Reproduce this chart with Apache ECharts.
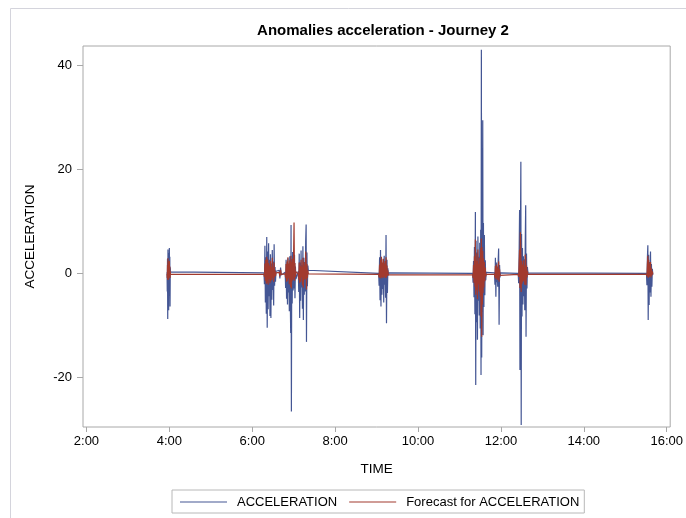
<!DOCTYPE html>
<html>
<head>
<meta charset="utf-8">
<script src="https://cdn.jsdelivr.net/npm/echarts@6/dist/echarts.min.js"></script>
<style>
html,body{margin:0;padding:0;background:#fff;}
#chart{width:686px;height:518px;}
</style>
</head>
<body>
<div id="chart"></div>
<script>
// Rows: [time "H:MM:SS", ACCELERATION, Forecast for ACCELERATION]
const burst0400 = [
  ["3:56:40", 0.2, -0.1], ["3:57:00", -3.5, -0.9], ["3:57:20", 2.8, 1.6], ["3:57:40", -8.8, -1.3],
  ["3:58:00", 4.6, 2.9], ["3:58:20", -5.2, -0.8], ["3:58:40", 3.9, 2.2], ["3:59:00", -7.1, -1.2],
  ["3:59:20", 1.5, 1.0], ["3:59:40", -4.3, -0.6], ["4:00:00", 4.9, 2.4], ["4:00:20", -2.6, -0.4],
  ["4:00:40", 3.2, 1.3], ["4:01:00", -6.4, -0.9], ["4:01:20", 1.1, 0.4], ["4:01:40", 0.3, -0.2]
];
const burst0625 = [
  ["6:17:00", 0.1, -0.2], ["6:17:40", -2.1, -0.7], ["6:18:20", 5.3, 1.9], ["6:19:00", -5.6, -1.4],
  ["6:19:40", 3.1, 2.6], ["6:20:20", -7.8, -2.0], ["6:21:00", 7.0, 3.2], ["6:21:40", -10.5, -1.8],
  ["6:22:20", 4.2, 2.7], ["6:23:00", -6.9, -2.2], ["6:23:40", 5.8, 2.0], ["6:24:20", -4.4, -1.1],
  ["6:25:00", 2.6, 1.5], ["6:25:40", -8.2, -1.9], ["6:26:20", 3.7, 2.4], ["6:27:00", -8.6, -1.5],
  ["6:27:40", 1.9, 1.2], ["6:28:20", -5.1, -1.3], ["6:29:00", 4.5, 3.0], ["6:29:40", -3.2, -0.9],
  ["6:30:20", 2.3, 1.1], ["6:31:00", -6.2, -1.6], ["6:31:40", 5.6, 2.1], ["6:32:20", -2.4, -0.8],
  ["6:33:00", 1.2, 0.6], ["6:33:40", -1.6, -0.5], ["6:34:20", 0.4, 0.1],
  ["6:39:00", 0.6, 0.2], ["6:40:00", -1.0, -0.6], ["6:41:00", 1.1, 0.7], ["6:42:00", -0.3, -0.2]
];
const burst0655 = [
  ["6:47:40", 0.2, -0.1], ["6:48:20", -2.8, -0.9], ["6:49:00", 2.6, 1.8], ["6:49:40", -4.9, -1.6],
  ["6:50:20", 1.8, 2.3], ["6:51:00", -6.0, -1.4], ["6:51:40", 2.9, 3.1], ["6:52:20", -3.7, -1.0],
  ["6:53:00", 1.4, 1.9], ["6:53:40", -7.3, -2.1], ["6:54:20", 3.3, 2.5], ["6:55:00", -4.6, -1.7],
  ["6:55:40", -11.5, -2.6], ["6:56:10", 9.3, 3.4], ["6:56:40", -26.6, -2.9], ["6:57:10", 2.7, 2.2],
  ["6:57:50", -5.8, -1.5], ["6:58:30", 4.1, 2.8], ["6:59:10", -3.3, -1.2], ["6:59:50", 1.7, 3.6],
  ["7:00:30", -2.9, 9.8], ["7:01:10", 3.6, -1.4], ["7:01:50", -4.8, 2.0], ["7:02:30", 1.3, -0.7],
  ["7:03:10", -1.1, 0.3]
];
const burst0715 = [
  ["7:06:40", 0.4, -0.1], ["7:07:20", -3.6, -1.2], ["7:08:00", 3.8, 2.1], ["7:08:40", -8.6, -1.9],
  ["7:09:20", 2.1, 1.4], ["7:10:00", -5.3, -1.6], ["7:10:40", 4.4, 2.6], ["7:11:20", -2.7, -0.8],
  ["7:12:00", 1.6, 1.2], ["7:12:40", -6.8, -2.3], ["7:13:20", 5.2, 3.0], ["7:14:00", -9.0, -2.7],
  ["7:14:40", 3.0, 2.2], ["7:15:20", -4.1, -1.3], ["7:16:00", 2.2, 1.5], ["7:16:40", -3.5, -1.1],
  ["7:17:20", 6.1, 4.2], ["7:18:00", 9.4, 2.4], ["7:18:30", -13.2, -3.1], ["7:19:10", 4.0, 1.8],
  ["7:19:50", -2.5, -0.9], ["7:20:30", 1.5, 0.6], ["7:21:10", 0.6, -0.1]
];
const burst0910 = [
  ["9:03:00", 0.0, -0.2], ["9:03:40", -2.4, -0.8], ["9:04:20", 3.1, 1.7], ["9:05:00", -5.2, -0.9],
  ["9:05:40", 4.5, 2.6], ["9:06:20", -6.4, -1.0], ["9:07:00", 2.0, 3.2], ["9:07:40", -4.1, -0.7],
  ["9:08:20", 1.5, 2.1], ["9:09:00", -3.0, -0.9], ["9:09:40", 2.7, 2.8], ["9:10:20", -5.6, -0.8],
  ["9:11:00", 3.4, 1.9], ["9:11:40", -2.2, -0.6], ["9:12:20", 1.9, 2.4], ["9:13:00", -4.7, -0.9],
  ["9:13:40", 7.4, 3.1], ["9:14:20", -9.6, -0.8], ["9:15:00", 2.6, 1.5], ["9:15:40", -3.8, -0.5],
  ["9:16:20", 1.0, 0.6], ["9:17:00", -0.4, -0.3], ["9:17:40", 0.1, -0.2]
];
const burst1130 = [
  ["11:19:00", 0.0, -0.3], ["11:19:40", -1.8, -0.9], ["11:20:20", 2.4, 1.6], ["11:21:00", -4.6, -1.8],
  ["11:21:40", 5.1, 3.3], ["11:22:20", -7.9, -2.6], ["11:23:00", 11.8, 6.5], ["11:23:30", -21.5, -4.1],
  ["11:24:00", 6.3, 3.8], ["11:24:40", -9.4, -3.2], ["11:25:20", 4.0, 2.4], ["11:26:00", -12.8, -5.0],
  ["11:26:40", 7.1, 4.6], ["11:27:20", -5.3, -2.1], ["11:28:00", 3.2, 1.8], ["11:28:40", -8.1, -3.5],
  ["11:29:20", 5.9, 3.0], ["11:30:00", -10.6, -4.4], ["11:30:40", 8.4, 4.9], ["11:31:10", -19.6, -8.3],
  ["11:31:40", 43.1, 6.7], ["11:32:10", -16.2, -12.2], ["11:32:40", 12.5, 5.1], ["11:33:10", -7.4, -6.0],
  ["11:33:40", 29.5, 4.3], ["11:34:10", -11.9, -3.8], ["11:34:40", 9.7, 2.9], ["11:35:20", -6.5, -2.7],
  ["11:36:00", 7.4, 2.2], ["11:36:40", -4.2, -1.5], ["11:37:20", 2.5, 1.1], ["11:38:00", -1.3, -0.6],
  ["11:38:40", 0.2, -0.2]
];
const burst1155 = [
  ["11:50:40", 0.1, -0.2], ["11:51:20", -2.2, -0.8], ["11:52:00", 3.0, 1.4], ["11:52:40", -4.5, -1.2],
  ["11:53:20", 2.1, 1.7], ["11:54:00", -1.7, -0.9], ["11:54:40", 1.3, 1.1], ["11:55:20", -2.6, -1.3],
  ["11:56:00", 2.4, 1.5], ["11:56:40", 4.8, 2.3], ["11:57:20", -9.9, -1.6], ["11:58:00", 1.6, 0.8],
  ["11:58:40", -0.8, -0.4], ["11:59:20", 0.1, -0.2]
];
const burst1230 = [
  ["12:25:00", 0.0, -0.2], ["12:25:40", -1.9, -0.7], ["12:26:20", 3.4, 1.9], ["12:27:00", 12.2, 4.6],
  ["12:27:30", -18.6, -2.8], ["12:28:10", 6.1, 7.9], ["12:28:50", 21.5, 3.3], ["12:29:20", -29.2, -3.6],
  ["12:29:50", 7.6, 2.4], ["12:30:30", -8.3, -2.0], ["12:31:10", 4.9, 1.7], ["12:31:50", -6.0, -1.6],
  ["12:32:30", 3.3, 2.5], ["12:33:10", -4.4, -1.4], ["12:33:50", 2.7, 1.3], ["12:34:30", -7.1, -2.2],
  ["12:35:10", 5.5, 3.6], ["12:35:50", 13.1, 2.6], ["12:36:20", -12.2, -2.3], ["12:37:00", 3.8, 1.5],
  ["12:37:40", -2.9, -0.8], ["12:38:20", 1.2, 0.5], ["12:39:00", 0.1, -0.2]
];
const burst1535 = [
  ["15:30:40", 0.0, -0.2], ["15:31:20", -2.3, -0.6], ["15:32:00", 2.9, 1.7], ["15:32:40", 5.4, 3.4],
  ["15:33:10", -9.0, -0.9], ["15:33:50", 3.6, 2.6], ["15:34:30", -6.1, -0.7], ["15:35:10", 2.2, 1.9],
  ["15:35:50", -3.7, -0.5], ["15:36:30", 4.2, 2.2], ["15:37:10", -4.5, -0.8], ["15:37:50", 1.8, 1.0],
  ["15:38:30", -2.6, -0.4], ["15:39:10", 0.9, 0.4], ["15:39:50", -0.3, -0.2]
];

const xTickMinutes = [120, 240, 360, 480, 600, 720, 840, 960];
const yTickValues = [-20, 0, 20, 40];
const seriesNames = ["ACCELERATION", "Forecast for ACCELERATION"];

function toMinutes(s) {
  const p = s.split(":").map(Number);
  return p[0] * 60 + p[1] + (p[2] || 0) / 60;
}
const allRows = [].concat(burst0400, burst0625, burst0655, burst0715, burst0910,
                          burst1130, burst1155, burst1230, burst1535);
const accData = allRows.map(r => [toMinutes(r[0]), r[1]]);
const fcData = allRows.map(r => [toMinutes(r[0]), r[2]]);

const FONT = "Liberation Sans, Arial, sans-serif";
const chart = echarts.init(document.getElementById("chart"), null, {renderer: "canvas"});
chart.setOption({
  animation: false,
  backgroundColor: "#ffffff",
  title: {
    text: "Anomalies acceleration - Journey 2",
    left: 378, top: 18, textAlign: "center",
    textStyle: {fontFamily: FONT, fontSize: 15, fontWeight: "bold", color: "#000"}
  },
  graphic: [
    {type: "line", shape: {x1: 10.5, y1: 8.5, x2: 686, y2: 8.5}, style: {stroke: "#d4d4dc", lineWidth: 1}, silent: true},
    {type: "line", shape: {x1: 10.5, y1: 8.5, x2: 10.5, y2: 518}, style: {stroke: "#d4d4dc", lineWidth: 1}, silent: true}
  ],
  grid: {left: 83, right: 13, top: 46, bottom: 91, show: true, borderColor: "#a8a8a8", borderWidth: 1, containLabel: false},
  legend: {
    data: seriesNames,
    left: 172, top: 490,
    padding: [5, 5, 4, 8],
    itemGap: 12, itemWidth: 47, itemHeight: 1,
    icon: "path://M0,0H47V1H0Z",
    borderColor: "#b8b8b8", borderWidth: 1,
    textStyle: {fontFamily: FONT, fontSize: 13, color: "#000", padding: [0, 0, 0, 5], lineHeight: 14}
  },
  xAxis: {
    type: "value", min: 115, max: 965,
    name: "TIME", nameLocation: "middle", nameGap: 35,
    nameTextStyle: {fontFamily: FONT, fontSize: 13.5, color: "#000"},
    axisLine: {show: false, onZero: false},
    axisTick: {show: true, length: 5, customValues: xTickMinutes, lineStyle: {color: "#a8a8a8"}},
    axisLabel: {
      customValues: xTickMinutes, margin: 8,
      fontFamily: FONT, fontSize: 13, color: "#000",
      formatter: v => Math.floor(v / 60) + ":" + String(Math.round(v % 60)).padStart(2, "0")
    },
    splitLine: {show: false}
  },
  yAxis: {
    type: "value", min: -29.6, max: 43.8,
    name: "ACCELERATION", nameLocation: "middle", nameGap: 46,
    nameTextStyle: {fontFamily: FONT, fontSize: 13.5, color: "#000"},
    axisLine: {show: false, onZero: false},
    axisTick: {show: true, length: 6, customValues: yTickValues, lineStyle: {color: "#a8a8a8"}},
    axisLabel: {customValues: yTickValues, margin: 11, fontFamily: FONT, fontSize: 13, color: "#000"},
    splitLine: {show: false}
  },
  series: [
    {name: seriesNames[0], type: "line", data: accData, symbol: "none", showSymbol: false,
     lineStyle: {color: "#445694", width: 1.2}, itemStyle: {color: "#445694"}, z: 2},
    {name: seriesNames[1], type: "line", data: fcData, symbol: "none", showSymbol: false,
     lineStyle: {color: "#A23A2E", width: 1.2}, itemStyle: {color: "#A23A2E"}, z: 3}
  ]
});
</script>
</body>
</html>
